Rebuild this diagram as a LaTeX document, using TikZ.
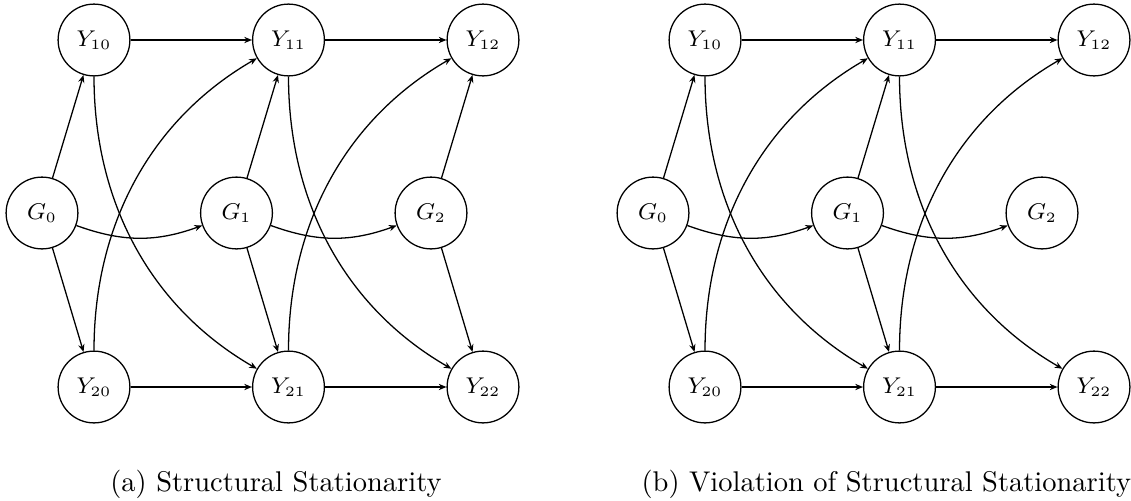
\documentclass[tikz,border=0pt]{standalone}
\usetikzlibrary{arrows.meta}
\begin{document}
\begin{tikzpicture}[x=0.3509pt, y=0.3509pt,
  var/.style={circle, draw, line width=0.45pt, minimum size=25.2pt, inner sep=0pt,
              font=\fontsize{7.6}{9}\selectfont},
  arr/.style={-{Stealth[length=2.7pt,width=2.2pt]}, line width=0.45pt},
  captext/.style={inner sep=0pt, font=\fontsize{10}{12}\selectfont}]
\useasboundingbox (0,0) rectangle (1131,500);

% ---------- panel (a) ----------
\node[var] (aY10) at (94,460)    {$Y_{10}$};
\node[var] (aY11) at (288.5,460) {$Y_{11}$};
\node[var] (aY12) at (483,460)   {$Y_{12}$};
\node[var] (aG0)  at (42,287)    {$G_0$};
\node[var] (aG1)  at (236.5,287) {$G_1$};
\node[var] (aG2)  at (431,287)   {$G_2$};
\node[var] (aY20) at (94,113)    {$Y_{20}$};
\node[var] (aY21) at (288.5,113) {$Y_{21}$};
\node[var] (aY22) at (483,113)   {$Y_{22}$};

\draw[arr] (aY10) -- (aY11);
\draw[arr] (aY11) -- (aY12);
\draw[arr] (aY20) -- (aY21);
\draw[arr] (aY21) -- (aY22);
\draw[arr] (aG0) -- (aY10);
\draw[arr] (aG0) -- (aY20);
\draw[arr] (aG1) -- (aY11);
\draw[arr] (aG1) -- (aY21);
\draw[arr] (aG2) -- (aY12);
\draw[arr] (aG2) -- (aY22);
\draw[arr] (aG0) to[bend right=20] (aG1);
\draw[arr] (aG1) to[bend right=20] (aG2);
\draw[arr] (aY10) to[out=-90,in=150,looseness=0.95] (aY21);
\draw[arr] (aY20) to[out=90,in=210,looseness=0.95] (aY11);
\draw[arr] (aY11) to[out=-90,in=150,looseness=0.95] (aY22);
\draw[arr] (aY21) to[out=90,in=210,looseness=0.95] (aY12);

\node[captext, anchor=base] (capa) at (276,9) {(a) Structural Stationarity};

% ---------- panel (b) ----------
\node[var] (bY10) at (705,460)    {$Y_{10}$};
\node[var] (bY11) at (899.5,460)  {$Y_{11}$};
\node[var] (bY12) at (1094,460)   {$Y_{12}$};
\node[var] (bG0)  at (653,287)    {$G_0$};
\node[var] (bG1)  at (847.5,287)  {$G_1$};
\node[var] (bG2)  at (1042,287)   {$G_2$};
\node[var] (bY20) at (705,113)    {$Y_{20}$};
\node[var] (bY21) at (899.5,113)  {$Y_{21}$};
\node[var] (bY22) at (1094,113)   {$Y_{22}$};

\draw[arr] (bY10) -- (bY11);
\draw[arr] (bY11) -- (bY12);
\draw[arr] (bY20) -- (bY21);
\draw[arr] (bY21) -- (bY22);
\draw[arr] (bG0) -- (bY10);
\draw[arr] (bG0) -- (bY20);
\draw[arr] (bG1) -- (bY11);
\draw[arr] (bG1) -- (bY21);
\draw[arr] (bG0) to[bend right=20] (bG1);
\draw[arr] (bG1) to[bend right=20] (bG2);
\draw[arr] (bY10) to[out=-90,in=150,looseness=0.95] (bY21);
\draw[arr] (bY20) to[out=90,in=210,looseness=0.95] (bY11);
\draw[arr] (bY11) to[out=-90,in=150,looseness=0.95] (bY22);
\draw[arr] (bY21) to[out=90,in=210,looseness=0.95] (bY12);

\node[captext, anchor=base west] (capb) at (641,9) {(b) Violation of Structural Stationarity};
\end{tikzpicture}
\end{document}
